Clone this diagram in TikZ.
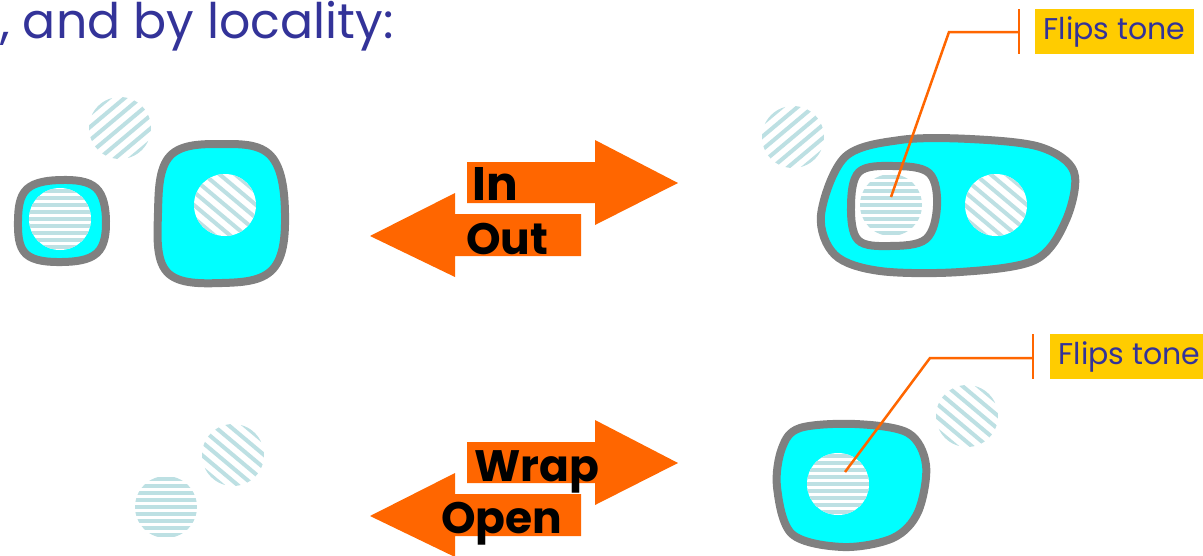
\documentclass[tikz,border=0pt]{standalone}
\usepackage{fontspec}
\setmainfont{Poppins}
\usetikzlibrary{calc}
\definecolor{cyanfill}{HTML}{00FFFF}
\definecolor{blobgray}{HTML}{808080}
\definecolor{stripecol}{HTML}{BDE0E3}
\definecolor{arroworange}{HTML}{FF6600}
\definecolor{tagyellow}{HTML}{FFCC00}
\definecolor{titleblue}{HTML}{333399}
\tikzset{
  blob/.style={draw=blobgray, line width=8pt, fill=cyanfill, line join=round},
  innerblob/.style={draw=blobgray, line width=8pt, fill=white, line join=round},
  hstripe/.style={draw=stripecol, line width=3.5pt},
  dstripe/.style={draw=stripecol, line width=4pt},
  bigarrow/.style={fill=arroworange, draw=none},
  arrowtext/.style={anchor=base west, inner sep=0pt, font=\bfseries\fontsize{44}{50}\selectfont, text=black},
  flipbox/.style={fill=tagyellow, inner sep=0pt, minimum height=45pt, minimum width=159pt, text=titleblue, font=\fontsize{30}{36}\selectfont},
  callout/.style={draw=arroworange, line width=2.5pt},
}
% striped disc: name, x, y, angle, spacing, style
\newcommand\stripedisc[6]{%
  \node[circle, fill=white, inner sep=0pt, minimum size=62pt] (#1) at (#2,#3) {};
  \begin{scope}[shift={(#2,#3)}]
    \clip (0,0) circle[radius=31pt];
    \foreach \k in {-7,...,7} {
      \draw[#6, rotate=#4] (-45pt,\k*#5) -- (45pt,\k*#5);
    }
  \end{scope}}
\begin{document}
\begin{tikzpicture}[x=1pt,y=-1pt]
\useasboundingbox (0,0) rectangle (1203,555);

% title
\node[anchor=base west, inner sep=0pt, text=titleblue, font=\fontsize{49}{56}\selectfont] (title) at (0,38) {, and by locality:};

% ---------- top left ----------
\stripedisc{fd1}{120}{128}{40}{10pt}{dstripe}
\draw[blob] plot[smooth cycle, tension=0.65] coordinates {(62,180) (96,188) (106,221) (97,253) (62,262) (26,254) (18,221) (27,189)};
\stripedisc{hd1}{60}{219}{0}{7pt}{hstripe}
\draw[blob] plot[smooth cycle, tension=0.65] coordinates {(222,144) (271,156) (285,213) (273,269) (222,283) (167,272) (158,213) (170,156)};
\stripedisc{dd1}{225}{205}{-40}{10pt}{dstripe}

% ---------- top arrows ----------
\fill[bigarrow] (467,162) -- (595,162) -- (595,140) -- (678,183) -- (595,225) -- (595,203) -- (467,203) -- cycle;
\fill[bigarrow] (581,214) -- (455,214) -- (455,193) -- (370,236) -- (455,277) -- (455,256) -- (581,256) -- cycle;
\node[arrowtext, font=\bfseries\fontsize{47}{50}\selectfont] (in) at (472,200) {In};
\node[arrowtext] (out) at (466,254) {Out};

% ---------- top right ----------
\stripedisc{fd2}{793}{137}{40}{10pt}{dstripe}
\draw[blob] plot[smooth cycle, tension=0.55] coordinates {(845,157) (900,140) (970,139) (1040,147) (1074,172) (1066,220) (1035,260) (960,272) (880,271) (835,255) (821,215)};
\draw[innerblob] plot[smooth cycle, tension=0.6] coordinates {(893,166) (929,173) (937,206) (926,239) (890,246) (858,240) (851,206) (859,172)};
\stripedisc{hd2}{891}{205}{0}{7pt}{hstripe}
\stripedisc{dd2}{996}{205}{-40}{10pt}{dstripe}
\node[flipbox, anchor=north west] (ft1) at (1035,9) {Flips tone};
\coordinate (k1) at (949,32);
\coordinate (t1) at (1019,32);
\draw[callout] (891,197) -- (k1) -- (t1);
\draw[callout] (1019,9) -- (1019,54);

% ---------- bottom left ----------
\stripedisc{fd3}{233}{455}{-40}{10pt}{dstripe}
\stripedisc{hd3}{166}{507}{0}{7pt}{hstripe}

% ---------- bottom arrows ----------
\fill[bigarrow] (467,442) -- (595,442) -- (595,420) -- (678,463) -- (595,505) -- (595,483) -- (467,483) -- cycle;
\fill[bigarrow] (581,494) -- (455,494) -- (455,473) -- (370,516) -- (455,557) -- (455,536) -- (581,536) -- cycle;
\node[arrowtext] (wrap) at (474,481) {Wrap};
\node[arrowtext] (open) at (441,533) {Open};

% ---------- bottom right ----------
\stripedisc{fd4}{967}{416}{-40}{10pt}{dstripe}
\draw[blob] plot[smooth cycle, tension=0.55] coordinates {(800,428) (855,424) (908,433) (926,465) (918,512) (893,538) (843,547) (792,534) (777,487) (782,448)};
\stripedisc{hd4}{838}{484}{0}{7pt}{hstripe}
\node[flipbox, anchor=north west] (ft2) at (1050,334) {Flips tone};
\coordinate (k2) at (930,358);
\coordinate (t2) at (1033,358);
\draw[callout] (845,472) -- (k2) -- (t2);
\draw[callout] (1033,334) -- (1033,379);
\end{tikzpicture}
\end{document}
